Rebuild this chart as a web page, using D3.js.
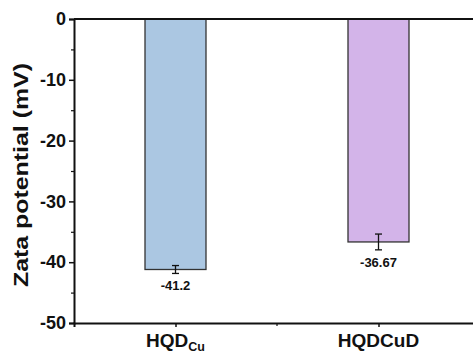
<!DOCTYPE html>
<html>
<head>
<meta charset="utf-8">
<script src="https://cdn.jsdelivr.net/npm/d3@7"></script>
<style>
  body { margin: 0; background: #fff; }
  text { font-family: Arial, "Liberation Sans", sans-serif; font-weight: bold; }
</style>
</head>
<body>
<svg id="chart"></svg>
<script>
const categories = ["HQDCu", "HQDCuD"];
const values = [-41.2, -36.67];
const errors = [0.65, 1.3];
const valueLabels = ["-41.2", "-36.67"];
const colors = ["#abc7e2", "#d3b4e9"];
const yTicks = [0, -10, -20, -30, -40, -50];

const drawChart = (svgId) => {
    const width = 473, height = 353;
    const left = 74, top = 19, bottom = 323;
    const right = 480;

    const svg = d3.select(svgId)
                  .attr("width", width)
                  .attr("height", height);

    const yScale = d3.scaleLinear()
                     .domain([0, -50])
                     .range([top, bottom]);

    const xScale = d3.scalePoint()
                     .domain(categories)
                     .range([left, right])
                     .padding(0.5);

    const barWidth = 61;

    // bars
    svg.selectAll("rect.bar")
       .data(values)
       .enter()
       .append("rect")
       .attr("class", "bar")
       .attr("x", (_, i) => xScale(categories[i]) - barWidth / 2)
       .attr("y", yScale(0))
       .attr("width", barWidth)
       .attr("height", d => yScale(d) - yScale(0))
       .attr("fill", (_, i) => colors[i])
       .attr("stroke", "#333")
       .attr("stroke-width", 1.3);

    // error bars
    const eb = svg.selectAll("g.err")
                  .data(values)
                  .enter()
                  .append("g")
                  .attr("stroke", "#111")
                  .attr("stroke-width", 1.3);
    eb.append("line")
      .attr("x1", (_, i) => xScale(categories[i]))
      .attr("x2", (_, i) => xScale(categories[i]))
      .attr("y1", (d, i) => yScale(d + errors[i]))
      .attr("y2", (d, i) => yScale(d - errors[i]));
    [1, -1].forEach(s => {
        eb.append("line")
          .attr("x1", (_, i) => xScale(categories[i]) - 3.5)
          .attr("x2", (_, i) => xScale(categories[i]) + 3.5)
          .attr("y1", (d, i) => yScale(d + s * errors[i]))
          .attr("y2", (d, i) => yScale(d + s * errors[i]));
    });

    // value labels
    svg.selectAll("text.val")
       .data(values)
       .enter()
       .append("text")
       .attr("class", "val")
       .attr("x", (_, i) => xScale(categories[i]))
       .attr("y", (d, i) => yScale(d - errors[i]) + 17)
       .attr("text-anchor", "middle")
       .attr("font-size", 13)
       .attr("fill", "#111")
       .text((_, i) => valueLabels[i]);

    // y axis
    const yAxis = svg.append("g")
       .attr("transform", `translate(${left},0)`)
       .call(d3.axisLeft(yScale).tickValues(yTicks).tickSize(5).tickPadding(3).tickFormat(d => String(d)));
    yAxis.select(".domain").attr("stroke", "#111").attr("stroke-width", 2);
    yAxis.selectAll(".tick line").attr("stroke", "#111").attr("stroke-width", 1.5);
    yAxis.selectAll(".tick text").attr("font-size", 18).attr("fill", "#111")
         .attr("font-family", "Arial, 'Liberation Sans', sans-serif").attr("font-weight", "bold");

    const yMinor = svg.append("g")
       .attr("transform", `translate(${left},0)`)
       .call(d3.axisLeft(yScale).tickValues([-5, -15, -25, -35, -45]).tickSize(3).tickFormat(""));
    yMinor.select(".domain").remove();
    yMinor.selectAll(".tick line").attr("stroke", "#111").attr("stroke-width", 1.2);

    // top line
    svg.append("line")
       .attr("x1", left).attr("x2", right)
       .attr("y1", top).attr("y2", top)
       .attr("stroke", "#111").attr("stroke-width", 2);

    // x axis
    const xAxis = svg.append("g")
       .attr("transform", `translate(0,${bottom})`)
       .call(d3.axisBottom(xScale).tickSize(4).tickFormat(""));
    xAxis.select(".domain").attr("stroke", "#111").attr("stroke-width", 2);
    xAxis.selectAll(".tick line").attr("stroke", "#111").attr("stroke-width", 1.5);

    const midX = (xScale(categories[0]) + xScale(categories[1])) / 2;
    svg.append("line")
       .attr("x1", midX).attr("x2", midX)
       .attr("y1", bottom).attr("y2", bottom + 3)
       .attr("stroke", "#111").attr("stroke-width", 1.2);

    // x labels
    const lab1 = svg.append("text")
       .attr("x", xScale(categories[0]))
       .attr("y", bottom + 24)
       .attr("text-anchor", "middle")
       .attr("font-size", 19)
       .attr("fill", "#111");
    lab1.append("tspan").text("HQD");
    lab1.append("tspan").attr("font-size", 12.5).attr("dy", 4).text("Cu");

    svg.append("text")
       .attr("x", xScale(categories[1]))
       .attr("y", bottom + 24)
       .attr("text-anchor", "middle")
       .attr("font-size", 19)
       .attr("fill", "#111")
       .text("HQDCuD");

    // y title
    svg.append("text")
       .attr("transform", `translate(28,${(top + bottom) / 2 + 4}) rotate(-90)`)
       .attr("text-anchor", "middle")
       .attr("font-size", 21)
       .attr("textLength", 224)
       .attr("lengthAdjust", "spacingAndGlyphs")
       .attr("fill", "#111")
       .text("Zata potential (mV)");
};

drawChart("#chart");
</script>
</body>
</html>
